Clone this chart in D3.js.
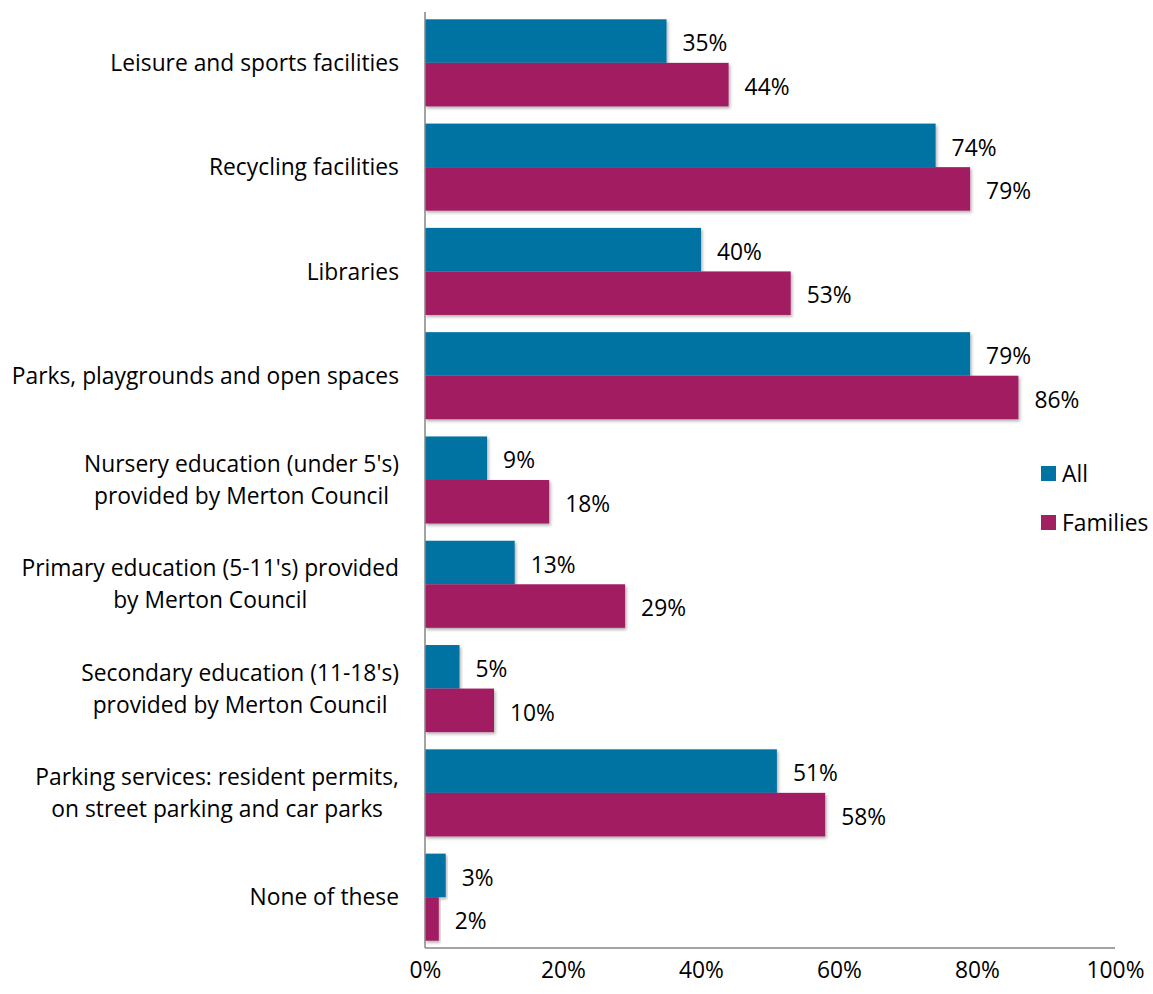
<!DOCTYPE html>
<html><head><meta charset="utf-8">
<script src="https://cdn.jsdelivr.net/npm/d3@7/dist/d3.min.js"></script>
<style>body{margin:0;background:#fff}svg{display:block}text{font-family:"Open Sans",sans-serif;fill:#000}</style>
</head><body><svg id="c" width="1153" height="994"></svg>
<script>
const categories = [
  ["Leisure and sports facilities"],
  ["Recycling facilities"],
  ["Libraries"],
  ["Parks, playgrounds and open spaces"],
  ["Nursery education (under 5's)", "provided by Merton Council"],
  ["Primary education (5-11's) provided", "by Merton Council"],
  ["Secondary education (11-18's)", "provided by Merton Council"],
  ["Parking services: resident permits,", "on street parking and car parks"],
  ["None of these"]
];
const seriesNames = ["All", "Families"];
const allValues = [35, 74, 40, 79, 9, 13, 5, 51, 3];
const familiesValues = [44, 79, 53, 86, 18, 29, 10, 58, 2];
const tickValues = [0, 20, 40, 60, 80, 100];
const colors = ["#0073A2", "#A21F62"];
const FONT = "'Open Sans',sans-serif";
const FS = 22.8;

const svg = d3.select("#c");
const defs = svg.append("defs");
const f = defs.append("filter").attr("id","sh").attr("x","-5%").attr("y","-10%").attr("width","115%").attr("height","130%");
f.append("feDropShadow").attr("dx",1.5).attr("dy",2).attr("stdDeviation",1.5).attr("flood-color","#000").attr("flood-opacity",0.3);

const mLeft = 425, mRight = 1115, mTop = 12, mBottom = 948;
const x = d3.scaleLinear().domain([0, 100]).range([mLeft, mRight]);
const y0 = d3.scaleBand().domain(d3.range(categories.length)).range([mTop, mBottom]).paddingInner(0.165).paddingOuter(0.07);
const y1 = d3.scaleBand().domain(seriesNames).range([0, y0.bandwidth()]);

const data = categories.map((c, i) => ({i, c, vals: [allValues[i], familiesValues[i]]}));

const g = svg.append("g");
data.forEach(d => {
  d.vals.forEach((v, k) => {
    const yy = y0(d.i) + y1(seriesNames[k]);
    g.append("rect").attr("x", x(0)).attr("y", yy).attr("width", x(v) - x(0)).attr("height", y1.bandwidth())
      .attr("fill", colors[k]).attr("filter", "url(#sh)");
    g.append("text").attr("x", x(v) + 16).attr("y", yy + y1.bandwidth() / 2 + 2).attr("dy", "0.36em")
      .attr("font-size", FS).text(v + "%");
  });
  const cy = y0(d.i) + y0.bandwidth() / 2;
  const lh = 32;
  const n = d.c.length;
  const lg = svg.append("g");
  const texts = d.c.map((line, j) =>
    lg.append("text").attr("y", cy + (j - (n - 1) / 2) * lh).attr("dy", "0.36em")
      .attr("text-anchor", "middle").attr("font-size", FS).text(line));
  const maxW = d3.max(texts, t => t.node().getComputedTextLength());
  texts.forEach(t => t.attr("x", 399 - maxW / 2));
});

svg.append("line").attr("x1", mLeft).attr("x2", mLeft).attr("y1", mTop).attr("y2", mBottom).attr("stroke", "#868686").attr("stroke-width", 1.5);
svg.append("line").attr("x1", mLeft).attr("x2", mRight).attr("y1", mBottom).attr("y2", mBottom).attr("stroke", "#868686").attr("stroke-width", 1.5);

const xa = svg.append("g").attr("transform", `translate(0,${mBottom})`)
  .call(d3.axisBottom(x).tickValues(tickValues).tickSize(0).tickPadding(14).tickFormat(d => d + "%"));
xa.select(".domain").remove();
xa.selectAll("text").attr("font-size", FS).style("font-family", FONT).attr("fill", "#000");

const leg = svg.append("g");
seriesNames.forEach((s, k) => {
  const ly = 473 + k * 49;
  leg.append("rect").attr("x", 1041).attr("y", ly - 7).attr("width", 15).attr("height", 15).attr("fill", colors[k]);
  leg.append("text").attr("x", 1062).attr("y", ly + 1).attr("dy", "0.36em").attr("font-size", FS).text(s);
});
</script></body></html>
